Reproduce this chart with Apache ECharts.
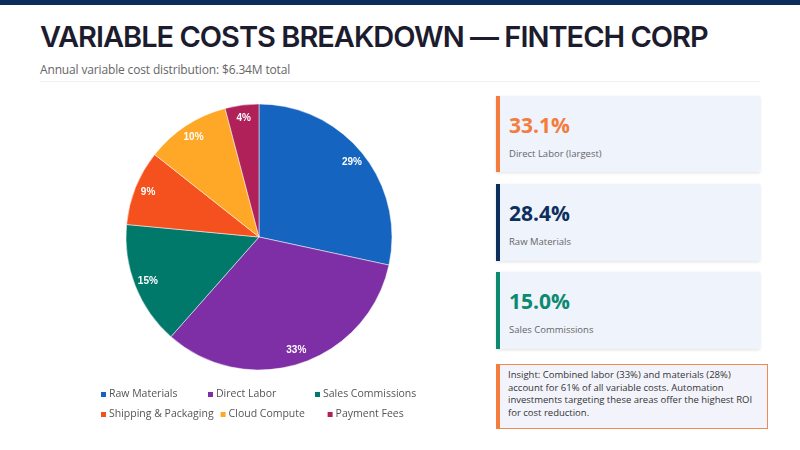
<!DOCTYPE html>
<html>
<head>
<meta charset="utf-8">
<script src="https://cdn.jsdelivr.net/npm/echarts@6/dist/echarts.min.js"></script>
<style>
  body{margin:0;width:800px;height:450px;overflow:hidden;background:#fff;font-family:'Open Sans',sans-serif;position:relative}
  .topbar{position:absolute;left:0;top:0;width:800px;height:5px;background:#0b2d5c}
  .title{position:absolute;left:40px;top:19px;font-family:Inter,sans-serif;font-weight:600;font-size:29px;letter-spacing:-1.0px;color:#1c1c2e;white-space:nowrap}
  .sub{position:absolute;left:40px;top:61px;font-size:12px;color:#666;letter-spacing:-0.15px}
  .rule{position:absolute;left:40px;top:81px;width:720px;height:1px;background:#eef0f4}
  #chart{position:absolute;left:0;top:0;width:490px;height:450px}
  .card{position:absolute;left:496px;width:260px;background:#eff3fc;border-left:4px solid;box-shadow:0 1px 3px rgba(0,0,0,0.12)}
  .card .v{position:absolute;left:9px;top:15px;font-weight:700;font-size:21px}
  .card .l{position:absolute;left:9px;top:51px;font-size:9.5px;color:#666}
  .insight{position:absolute;left:496px;top:364px;width:253px;height:54px;background:#f3f4fb;border:1px solid #f08a50;border-left:4px solid #f47c3c;padding:4px 6px 5px 8px;font-size:9.5px;line-height:12.5px;color:#333}
</style>
</head>
<body>
<div class="topbar"></div>
<div class="title">VARIABLE COSTS BREAKDOWN — FINTECH CORP</div>
<div class="sub">Annual variable cost distribution: $6.34M total</div>
<div class="rule"></div>
<div id="chart"></div>

<div class="card" style="top:96px;height:76px;border-color:#f47c3c"><div class="v" style="color:#f47c3c">33.1%</div><div class="l">Direct Labor (largest)</div></div>
<div class="card" style="top:184px;height:77px;border-color:#0d2f5e"><div class="v" style="color:#0d2f5e">28.4%</div><div class="l">Raw Materials</div></div>
<div class="card" style="top:272px;height:77px;border-color:#0b8a6f"><div class="v" style="color:#0b8a6f">15.0%</div><div class="l">Sales Commissions</div></div>
<div class="insight">Insight: Combined labor (33%) and materials (28%) account for 61% of all variable costs. Automation investments targeting these areas offer the highest ROI for cost reduction.</div>

<script>
// cost categories, $M per year (total 6.34)
var categories = ['Raw Materials', 'Direct Labor', 'Sales Commissions', 'Shipping & Packaging', 'Cloud Compute', 'Payment Fees'];
var costs = [1.80, 2.10, 0.95, 0.58, 0.65, 0.26];
var colors = ['#1565c0', '#7e2fa6', '#00796b', '#f4511e', '#ffa726', '#b0215a'];

var chart = echarts.init(document.getElementById('chart'));

var data = categories.map(function (name, i) {
    return {name: name, value: costs[i], itemStyle: {color: colors[i]}};
});

chart.setOption({
    animation: false,
    legend: {
        left: 94,
        top: 382,
        width: 345,
        itemWidth: 7,
        itemHeight: 7,
        itemGap: 5,
        icon: 'rect',
        data: categories,
        textStyle: {fontFamily: 'Open Sans', fontSize: 10.5, color: '#555', width: 92, lineHeight: 15, padding: [0, 0, 0, -3]}
    },
    series: [{
        type: 'pie',
        center: [259, 237],
        radius: [0, 133],
        startAngle: 90,
        data: data,
        label: {show: false},
        itemStyle: {borderColor: '#fff', borderWidth: 0.5}
    }, {
        // transparent ring only used to place the % labels near the rim
        type: 'pie',
        silent: true,
        center: [259, 237],
        radius: [100, 133],
        startAngle: 90,
        percentPrecision: 0,
        data: data.map(function (d) { return {name: d.name, value: d.value}; }),
        legendHoverLink: false,
        itemStyle: {color: 'rgba(0,0,0,0)'},
        label: {show: true, position: 'inside', formatter: '{d}%', color: '#fff', fontSize: 10, fontWeight: 'bold', fontFamily: 'Liberation Sans'}
    }]
});
</script>
</body>
</html>
